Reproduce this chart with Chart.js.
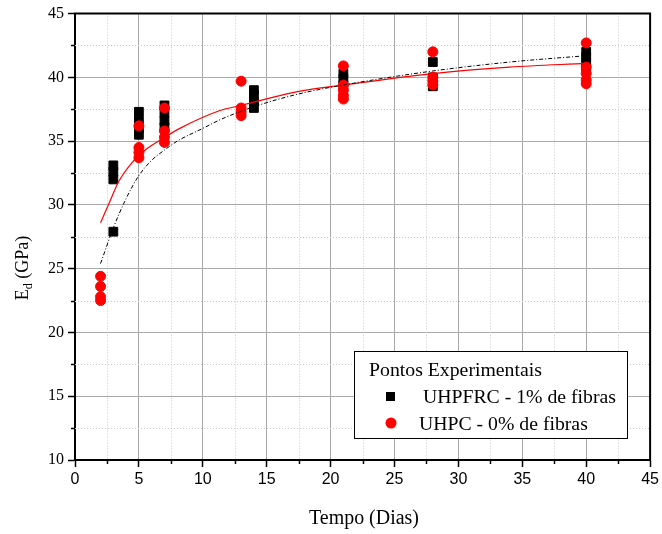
<!DOCTYPE html>
<html><head><meta charset="utf-8">
<script src="https://cdn.jsdelivr.net/npm/chart.js@4.4.1/dist/chart.umd.min.js"></script>
<style>html,body{margin:0;padding:0;background:#fff;overflow:hidden}</style>
</head><body>
<canvas id="c" width="662" height="534"></canvas>
<script>
// ---- data ----
const xTickLabels = [0, 5, 10, 15, 20, 25, 30, 35, 40, 45];
const yTickLabels = [10, 15, 20, 25, 30, 35, 40, 45];

const uhpfrcDays = [3, 3, 3, 3, 5, 5, 5, 5, 7, 7, 7, 7, 14, 14, 14, 14, 21, 21, 21, 28, 28, 28, 28, 40, 40, 40, 40];
const uhpfrcEd   = [33.1, 32.6, 32.0, 27.9, 37.3, 36.6, 36.0, 35.5, 37.8, 37.2, 36.6, 36.1, 39.0, 38.6, 38.1, 37.6, 40.3, 39.9, 39.4, 41.2, 40.0, 39.6, 39.3, 42.0, 41.6, 41.2, 40.8];

const uhpcDays = [2, 2, 2, 2, 5, 5, 5, 5, 7, 7, 7, 7, 13, 13, 13, 13, 21, 21, 21, 21, 21, 28, 28, 28, 28, 40, 40, 40, 40, 40];
const uhpcEd   = [24.4, 23.6, 22.8, 22.5, 36.2, 34.5, 34.1, 33.7, 37.6, 35.8, 35.3, 34.9, 39.7, 37.6, 37.3, 37.0, 40.9, 39.4, 39.0, 38.6, 38.3, 42.0, 40.0, 39.7, 39.4, 42.7, 40.8, 40.3, 39.8, 39.5];

const fitUhpcDays = [2, 2.7, 3.4, 4.45, 5.5, 6.7, 8.2, 11.35, 13, 17.5, 21, 28, 34, 40];
const fitUhpcEd   = [28.6, 30.2, 31.8, 33.3, 34.3, 35.1, 36.0, 37.4, 37.8, 38.9, 39.4, 40.3, 40.8, 41.1];

const fitUhpfrcDays = [2, 3, 4, 5, 6, 7, 8, 10, 11.4, 14, 17.5, 21, 28, 34, 40];
const fitUhpfrcEd   = [25.4, 28.2, 30.5, 32.3, 33.5, 34.3, 35.0, 36.0, 36.7, 37.7, 38.7, 39.4, 40.5, 41.2, 41.7];

const legendTitle = 'Pontos Experimentais';
const seriesNames = ['UHPFRC - 1% de fibras', 'UHPC - 0% de fibras'];
const xTitle = 'Tempo (Dias)';

// ---- build datasets ----
const pts = (xs, ys) => xs.map((x, i) => ({x, y: ys[i]}));

const SERIF = '"Liberation Serif", "Times New Roman", serif';
const SANS = '"Liberation Sans", Arial, sans-serif';

function fitFont(ctx, text, width, family) {
  ctx.font = '20px ' + family;
  return 20 * width / ctx.measureText(text).width;
}

const decor = {
  id: 'decor',
  beforeDatasetsDraw(chart) {
    const {ctx, chartArea: a, scales: {x, y}} = chart;
    ctx.save();
    ctx.strokeStyle = '#c8c8c8';
    ctx.lineWidth = 1;
    ctx.setLineDash([1, 2]);
    for (let v = 2.5; v < 45; v += 5) {
      const px = Math.round(x.getPixelForValue(v)) + 0.5;
      ctx.beginPath(); ctx.moveTo(px, a.top); ctx.lineTo(px, a.bottom); ctx.stroke();
    }
    for (let v = 12.5; v < 45; v += 5) {
      const py = Math.round(y.getPixelForValue(v)) + 0.5;
      ctx.beginPath(); ctx.moveTo(a.left, py); ctx.lineTo(a.right, py); ctx.stroke();
    }
    ctx.restore();
  },
  afterDraw(chart) {
    const {ctx, chartArea: a, scales: {x, y}} = chart;
    ctx.save();
    // minor ticks
    ctx.strokeStyle = '#000';
    ctx.lineWidth = 1.5;
    for (let v = 2.5; v < 45; v += 5) {
      const px = Math.round(x.getPixelForValue(v)) + 0.5;
      ctx.beginPath(); ctx.moveTo(px, a.bottom); ctx.lineTo(px, a.bottom + 4); ctx.stroke();
    }
    for (let v = 12.5; v < 45; v += 5) {
      const py = Math.round(y.getPixelForValue(v)) + 0.5;
      ctx.beginPath(); ctx.moveTo(a.left, py); ctx.lineTo(a.left - 4, py); ctx.stroke();
    }
    // frame top + right
    ctx.lineWidth = 2;
    ctx.beginPath();
    ctx.moveTo(a.left - 1, a.top); ctx.lineTo(a.right, a.top); ctx.lineTo(a.right, a.bottom + 1);
    ctx.stroke();

    // legend box
    const bx = 354, by = 351, bw = 273, bh = 87;
    ctx.fillStyle = '#fff';
    ctx.fillRect(bx, by, bw, bh);
    ctx.lineWidth = 1;
    ctx.strokeStyle = '#000';
    ctx.strokeRect(bx + 0.5, by + 0.5, bw, bh);
    ctx.fillStyle = '#000';
    ctx.textBaseline = 'alphabetic';
    ctx.textAlign = 'left';
    let fs = fitFont(ctx, legendTitle, 173, SERIF);
    ctx.font = fs.toFixed(2) + 'px ' + SERIF;
    ctx.fillText(legendTitle, 369, 376);
    fs = fitFont(ctx, seriesNames[0], 193, SERIF);
    ctx.font = fs.toFixed(2) + 'px ' + SERIF;
    ctx.fillText(seriesNames[0], 423, 403);
    ctx.fillText(seriesNames[1], 419, 430);
    ctx.fillStyle = '#000';
    ctx.fillRect(386, 392, 9, 9);
    ctx.fillStyle = '#ff0000';
    ctx.beginPath(); ctx.arc(391, 423, 5.5, 0, Math.PI * 2); ctx.fill();

    // x title
    ctx.fillStyle = '#000';
    fs = fitFont(ctx, xTitle, 110, SERIF);
    ctx.font = fs.toFixed(2) + 'px ' + SERIF;
    ctx.textAlign = 'center';
    ctx.fillText(xTitle, 364, 524);

    // y title with subscript
    ctx.translate(22, 268);
    ctx.rotate(-Math.PI / 2);
    ctx.textAlign = 'left';
    const big = '18px ' + SERIF, small = '12px ' + SERIF;
    ctx.font = big; const wE = ctx.measureText('E').width;
    ctx.font = small; const wd = ctx.measureText('d').width;
    ctx.font = big; const wR = ctx.measureText(' (GPa)').width;
    let sx = -(wE + wd + wR) / 2;
    ctx.font = big; ctx.fillText('E', sx, 6); sx += wE;
    ctx.font = small; ctx.fillText('d', sx, 10); sx += wd;
    ctx.font = big; ctx.fillText(' (GPa)', sx, 6);
    ctx.restore();
  }
};

new Chart(document.getElementById('c'), {
  type: 'scatter',
  data: {
    datasets: [
      {label: 'fit UHPFRC', data: pts(fitUhpfrcDays, fitUhpfrcEd), showLine: true, pointRadius: 0,
       borderColor: '#000', borderWidth: 1, borderDash: [4, 2, 1, 2], cubicInterpolationMode: 'monotone', order: 0},
      {label: 'fit UHPC', data: pts(fitUhpcDays, fitUhpcEd), showLine: true, pointRadius: 0,
       borderColor: '#ff0000', borderWidth: 1.2, cubicInterpolationMode: 'monotone', order: 0},
      {label: seriesNames[1], data: pts(uhpcDays, uhpcEd), pointStyle: 'circle', pointRadius: 5,
       backgroundColor: '#ff0000', borderColor: '#ff0000', borderWidth: 1, order: 1},
      {label: seriesNames[0], data: pts(uhpfrcDays, uhpfrcEd), pointStyle: 'rect', pointRadius: 6.2,
       backgroundColor: '#000', borderColor: '#000', borderWidth: 1, order: 2}
    ]
  },
  options: {
    responsive: false,
    animation: false,
    devicePixelRatio: 1,
    layout: {padding: {left: 0, top: 13, right: 9, bottom: 0}},
    plugins: {legend: {display: false}, tooltip: {enabled: false}},
    scales: {
      x: {
        type: 'linear', min: 0, max: 45,
        afterBuildTicks: s => { s.ticks = xTickLabels.map(v => ({value: v})); },
        afterFit: s => { s.height = 74; },
        ticks: {color: '#000', font: {family: SANS, size: 16}, padding: 3, maxRotation: 0},
        grid: {color: '#a9a9a9', lineWidth: 1, tickColor: '#000', tickLength: 7, tickWidth: 1.5},
        border: {color: '#000', width: 2}
      },
      y: {
        type: 'linear', min: 10, max: 45,
        afterBuildTicks: s => { s.ticks = yTickLabels.map(v => ({value: v})); },
        afterFit: s => { s.width = 75; },
        ticks: {color: '#000', font: {family: SERIF, size: 16}, padding: 4},
        grid: {color: '#a9a9a9', lineWidth: 1, tickColor: '#000', tickLength: 7, tickWidth: 1.5},
        border: {color: '#000', width: 2}
      }
    }
  },
  plugins: [decor]
});
</script>
</body></html>
